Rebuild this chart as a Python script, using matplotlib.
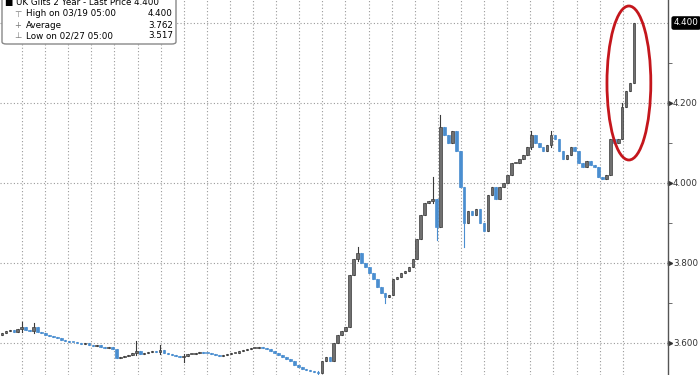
import matplotlib
matplotlib.use("Agg")
import matplotlib.pyplot as plt
from matplotlib.patches import Ellipse, FancyBboxPatch, Rectangle
import numpy as np

# UK Gilts 2 Year - closes, one per bar
closes = [3.625, 3.630, 3.632, 3.628, 3.635, 3.640, 3.632, 3.630, 3.640, 3.628,
          3.625, 3.620, 3.618, 3.615, 3.612, 3.608, 3.605, 3.603, 3.602, 3.600,
          3.598, 3.600, 3.596, 3.593, 3.595, 3.590, 3.588, 3.590, 3.585, 3.562,
          3.565, 3.568, 3.570, 3.575, 3.580, 3.572, 3.575, 3.578, 3.580, 3.578,
          3.582, 3.575, 3.572, 3.570, 3.568, 3.565, 3.568, 3.572, 3.573, 3.575,
          3.578, 3.576, 3.575, 3.572, 3.570, 3.568, 3.570, 3.572, 3.575, 3.576,
          3.580, 3.582, 3.585, 3.587, 3.588, 3.590, 3.588, 3.585, 3.580, 3.575,
          3.570, 3.565, 3.560, 3.555, 3.545, 3.540, 3.535, 3.532, 3.530, 3.528,
          3.525, 3.555, 3.565, 3.555, 3.600, 3.620, 3.630, 3.640, 3.770, 3.810,
          3.825, 3.800, 3.790, 3.775, 3.760, 3.740, 3.725, 3.715, 3.720, 3.760,
          3.765, 3.775, 3.780, 3.790, 3.810, 3.860, 3.920, 3.950, 3.955, 3.960,
          3.890, 4.140, 4.120, 4.100, 4.130, 4.080, 3.990, 3.900, 3.930, 3.920,
          3.935, 3.900, 3.880, 3.970, 3.990, 3.960, 3.990, 4.000, 4.020, 4.050,
          4.050, 4.060, 4.070, 4.090, 4.120, 4.100, 4.090, 4.080, 4.095, 4.120,
          4.110, 4.080, 4.060, 4.070, 4.090, 4.080, 4.050, 4.040, 4.055, 4.045,
          4.040, 4.015, 4.010, 4.020, 4.110, 4.100, 4.110, 4.190, 4.230, 4.250,
          4.400]
first_open = 3.620

# bars whose wicks reach past the body (index: (low, high))
wicks = {5: (3.628, 3.652), 8: (3.625, 3.650), 34: (3.570, 3.605), 40: (3.572, 3.595),
         46: (3.553, 3.572), 80: (3.517, 3.530), 90: (3.805, 3.840), 97: (3.700, 3.725),
         109: (3.950, 4.015), 110: (3.857, 3.960), 111: (3.980, 4.170), 117: (3.840, 3.990),
         134: (4.085, 4.130), 139: (4.090, 4.130), 157: (4.160, 4.200)}

yticks = [3.6, 3.8, 4.0, 4.2, 4.4]
ytick_labels = ["3.600", "3.800", "4.000", "4.200", "4.400"]
last_price = 4.400
legend_rows = [("High on 03/19 05:00", "4.400"),
               ("Average", "3.762"),
               ("Low on 02/27 05:00", "3.517")]

plt.rcParams['font.family'] = ['DejaVu Sans']

fig = plt.figure(figsize=(7, 3.75), dpi=100)
ax = fig.add_axes([0, 0, 668 / 700, 1])

up_c, up_e = "#707070", "#3a3a3a"
dn_c = "#4a8ed0"
opens = [first_open] + closes[:-1]
for i, (o, c) in enumerate(zip(opens, closes)):
    lo, hi = min(o, c), max(o, c)
    if i in wicks:
        lo, hi = min(lo, wicks[i][0]), max(hi, wicks[i][1])
    col = up_c if c >= o else dn_c
    ax.plot([i, i], [lo, hi], color=up_e if c >= o else dn_c, lw=0.8, zorder=3)
    ax.add_patch(Rectangle((i - 0.33, min(o, c)), 0.66, max(abs(c - o), 0.002),
                           facecolor=col, edgecolor=up_e if c >= o else dn_c,
                           lw=0.5, zorder=4))

ax.set_xlim(-0.5, 168.6)
ax.set_ylim(3.52, 4.4575)

# vertical dotted grid
for gx in np.arange(5.06, 160, 5.85):
    ax.axvline(gx, color="#9a9a9a", lw=0.8, ls=(0, (1, 2)), zorder=1)
for gy in yticks:
    ax.axhline(gy, color="#9a9a9a", lw=0.8, ls=(0, (1, 2)), zorder=1)

for s in ["top", "left", "bottom"]:
    ax.spines[s].set_visible(False)
ax.spines["right"].set_color("#555555")
ax.spines["right"].set_linewidth(1.0)
ax.set_xticks([])
ax.yaxis.tick_right()
ax.set_yticks(yticks)
ax.set_yticks([3.7, 3.9, 4.1, 4.3], minor=True)
ax.set_yticklabels([])
ax.tick_params(axis="y", which="major", length=0)
ax.tick_params(axis="y", which="minor", length=3, direction="out", color="#555555")

trans = ax.get_yaxis_transform()
for v, lab in zip(yticks, ytick_labels):
    if v == last_price:
        continue
    ax.plot([1.003], [v], marker=">", ms=3, color="#333333", transform=trans, clip_on=False)
    ax.text(1.0075, v, lab, transform=trans, va="center", ha="left", fontsize=6.3, color="#333333")
ax.text(1.0085, last_price, "4.400", transform=trans, va="center", ha="left", fontsize=6.3,
        color="white", bbox=dict(boxstyle="round,pad=0.18", fc="black", ec="black"))

# red highlight ellipse
ax.add_patch(Ellipse((158.7, 4.25), 11.1, 0.385, fill=False, ec="#c4161c", lw=2, zorder=6))

# legend box
fig.patches.append(FancyBboxPatch((2 / 700, 1 - 44 / 375), 174 / 700, 50 / 375,
                                  boxstyle="round,pad=0,rounding_size=0.006",
                                  transform=fig.transFigure, fc="white", ec="#888888", lw=1, zorder=10))
fig.text(5 / 700, 1 - 3 / 375, "■ UK Gilts 2 Year - Last Price 4.400", fontsize=6.3, va="center",
         ha="left", zorder=11)
syms = ["⊤", "+", "⊥"]
for k, (name, val) in enumerate(legend_rows):
    yy = 1 - (14 + 11 * k) / 375
    fig.text(14 / 700, yy, syms[k], fontsize=6, color="#777777", va="center", ha="left", zorder=11)
    fig.text(26 / 700, yy, name, fontsize=6.3, va="center", ha="left", zorder=11)
    fig.text(173 / 700, yy, val, fontsize=6.3, va="center", ha="right", zorder=11)

fig.savefig("out.png", dpi=100)
